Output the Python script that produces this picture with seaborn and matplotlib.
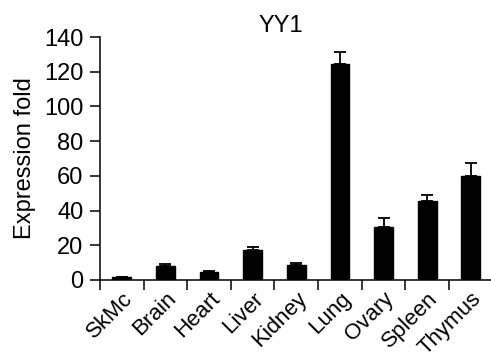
import numpy as np
import pandas as pd
import seaborn as sns
import matplotlib.pyplot as plt

# Expression fold of YY1 across tissues
tissues = ["SkMc", "Brain", "Heart", "Liver", "Kidney", "Lung", "Ovary", "Spleen", "Thymus"]
fold = [1.5, 8.1, 4.8, 17.1, 8.6, 124.5, 30.7, 45.5, 60.0]
err = [0.3, 0.9, 0.4, 1.7, 1.2, 7.0, 5.3, 3.5, 7.5]

df = pd.DataFrame({"tissue": tissues, "fold": fold})

sns.set_style("ticks", {"axes.edgecolor": "black", "text.color": "black",
                        "axes.labelcolor": "black", "xtick.color": "black",
                        "ytick.color": "black"})
plt.rcParams["font.family"] = ["Liberation Sans", "DejaVu Sans"]

fig = plt.figure(figsize=(4.91, 3.58), dpi=100)
ax = fig.add_axes([0.2037, 0.2179, 0.7963 * 1.004, 0.6787])

sns.barplot(data=df, x="tissue", y="fold", color="black", edgecolor="black",
            width=0.43, saturation=1, ax=ax)
ax.errorbar(np.arange(len(tissues)), fold, yerr=[np.zeros(len(err)), err],
            fmt="none", ecolor="black", elinewidth=1.3, capsize=4.5, capthick=1.3)

ax.set_xlim(-0.5, 8.5)
ax.set_ylim(0, 140)
ax.set_yticks(range(0, 141, 20))
ax.tick_params(axis="y", labelsize=17, length=7, width=1.1, direction="out", pad=5)

# category labels at centres, ticks at the boundaries between bars
ax.set_xticks(np.arange(len(tissues)))
ax.set_xticklabels(tissues, rotation=45, ha="right", rotation_mode="anchor", fontsize=16)
ax.tick_params(axis="x", which="major", length=0, pad=6)
ax.set_xticks(np.arange(-0.5, 8.5, 1), minor=True)
ax.tick_params(axis="x", which="minor", length=7, width=1.1, direction="out")

ax.set_xlabel("")
ax.set_ylabel("Expression fold", fontsize=17, labelpad=6)
ax.set_title("YY1", fontsize=17, pad=3, x=0.46)

sns.despine(ax=ax)
for s in ["left", "bottom"]:
    ax.spines[s].set_linewidth(1.1)

fig.savefig("out.png", dpi=100)
